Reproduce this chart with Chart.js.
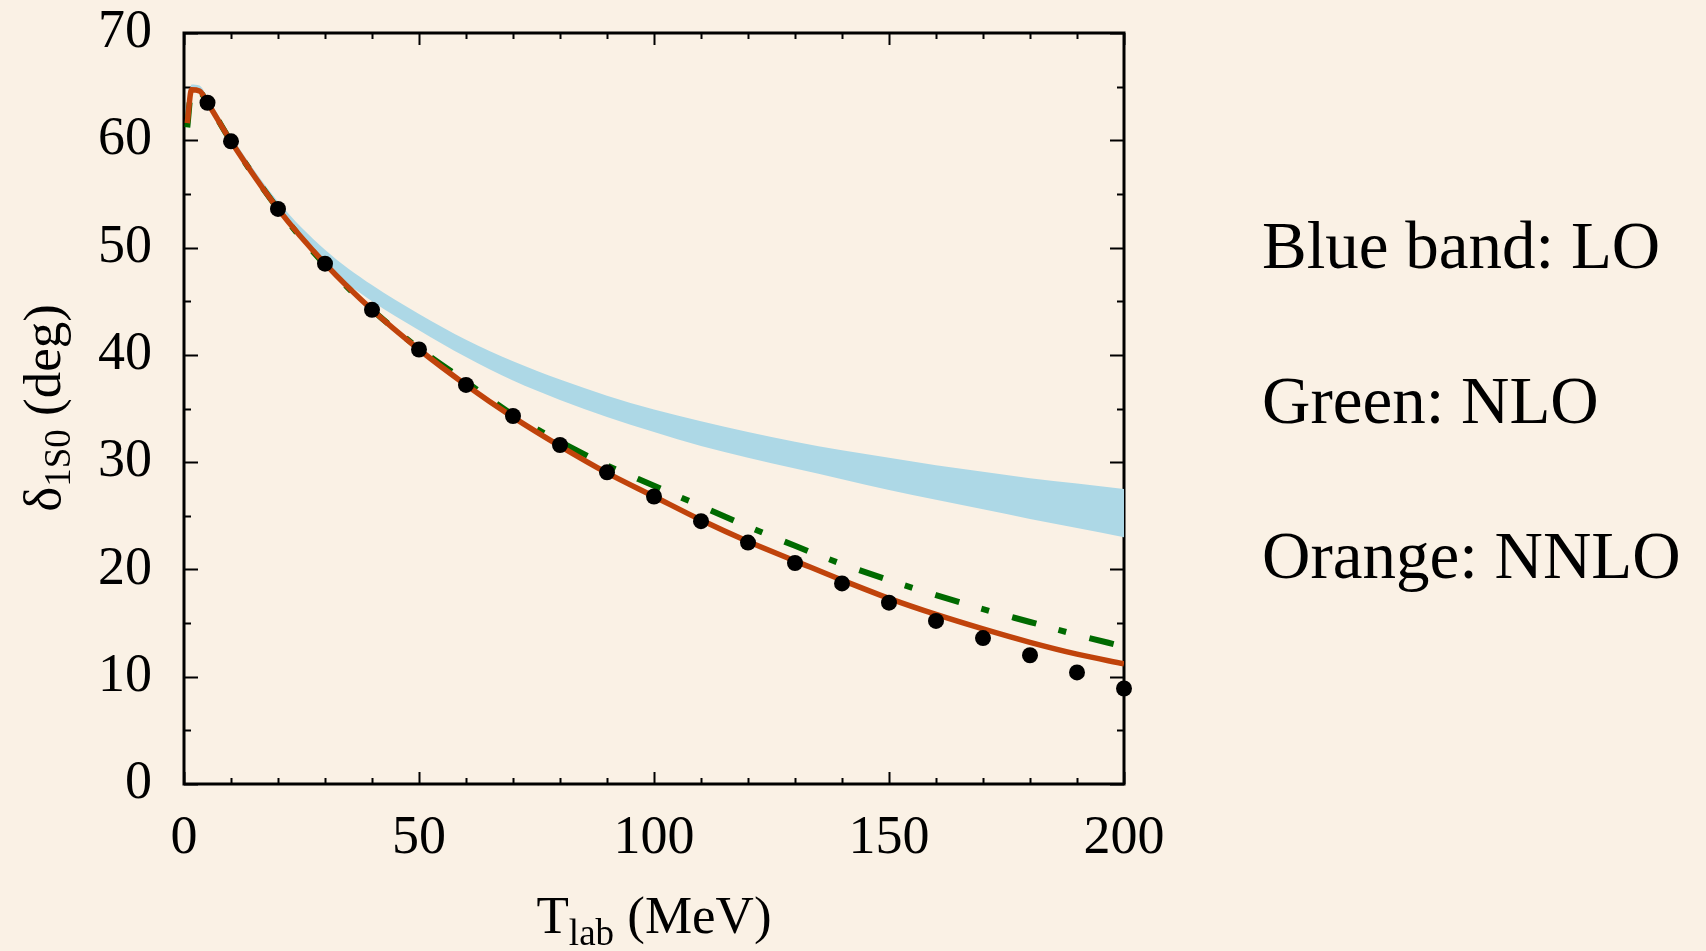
<!DOCTYPE html>
<html>
<head>
<meta charset="utf-8">
<script src="https://cdn.jsdelivr.net/npm/chart.js@4.4.1/dist/chart.umd.min.js"></script>
<style>
  html, body { margin: 0; padding: 0; background: #FAF1E5; }
  canvas { display: block; }
</style>
</head>
<body>
<canvas id="c" width="1706" height="951" style="width:1706px;height:951px"></canvas>
<script>
// ---- data ----
const curveT = [0.7, 1.6, 3.3, 5, 10, 20, 30, 40, 50, 60, 70, 80, 90, 100, 110, 120, 130, 140, 150, 160, 170, 180, 190, 200];
const loUpper = [62.2, 65.2, 65.1, 64.0, 60.4, 54.3, 49.8, 46.5, 43.8, 41.4, 39.4, 37.7, 36.2, 34.9, 33.8, 32.8, 31.9, 31.1, 30.4, 29.7, 29.1, 28.5, 28.0, 27.5];
const loLower = [61.8, 64.5, 64.4, 63.4, 59.9, 53.6, 48.4, 45.0, 42.3, 39.8, 37.6, 35.8, 34.2, 32.8, 31.5, 30.4, 29.4, 28.4, 27.4, 26.5, 25.6, 24.7, 23.85, 23.0];
const nlo = [61.2, 64.6, 64.5, 63.5, 59.9, 53.6, 48.4, 44.2, 40.6, 37.5, 34.4, 31.9, 29.7, 27.8, 25.9, 24.0, 22.2, 20.5, 19.0, 17.6, 16.3, 15.1, 13.9, 12.8];
const nnlo = [61.6, 64.7, 64.6, 63.5, 59.9, 53.6, 48.5, 44.2, 40.5, 37.2, 34.2, 31.5, 29.0, 26.8, 24.6, 22.6, 20.8, 19.0, 17.3, 15.8, 14.45, 13.2, 12.1, 11.2];
const dataT = [5, 10, 20, 30, 40, 50, 60, 70, 80, 90, 100, 110, 120, 130, 140, 150, 160, 170, 180, 190, 200];
const dataPhase = [63.5, 59.9, 53.6, 48.5, 44.2, 40.5, 37.2, 34.3, 31.6, 29.05, 26.8, 24.5, 22.5, 20.6, 18.7, 16.9, 15.2, 13.6, 12.0, 10.4, 8.9];
const xTicks = [0, 50, 100, 150, 200];
const yTicks = [0, 10, 20, 30, 40, 50, 60, 70];
const legendLines = ["Blue band: LO", "Green: NLO", "Orange: NNLO"];

const pts = (xs, ys) => xs.map((x, i) => ({x: x, y: ys[i]}));
const SERIF = "'Liberation Serif', 'Times New Roman', serif";

// frame + inward ticks on all four sides
const framePlugin = {
  id: 'frame',
  beforeDatasetsDraw(chart) {
    const {ctx, chartArea: a, scales: {x, y}} = chart;
    ctx.save();
    ctx.strokeStyle = '#000';
    ctx.lineWidth = 2;
    ctx.beginPath();
    for (let v = 0; v <= 200; v += 10) {
      const px = Math.round(x.getPixelForValue(v)) + 0.5;
      const len = (v % 50 === 0) ? 12 : 6;
      ctx.moveTo(px, a.bottom); ctx.lineTo(px, a.bottom - len);
      ctx.moveTo(px, a.top); ctx.lineTo(px, a.top + len);
    }
    for (let v = 0; v <= 70; v += 5) {
      const py = Math.round(y.getPixelForValue(v)) + 0.5;
      const len = (v % 10 === 0) ? 14 : 7;
      ctx.moveTo(a.left, py); ctx.lineTo(a.left + len, py);
      ctx.moveTo(a.right, py); ctx.lineTo(a.right - len, py);
    }
    ctx.stroke();
    ctx.lineWidth = 3;
    ctx.strokeRect(a.left, a.top, a.right - a.left, a.bottom - a.top);
    ctx.restore();
  }
};

// axis titles with subscripts + side text
const textPlugin = {
  id: 'texts',
  afterDraw(chart) {
    const {ctx, chartArea: a} = chart;
    ctx.save();
    ctx.fillStyle = '#000';
    ctx.textBaseline = 'alphabetic';
    ctx.textAlign = 'left';
    const main = '53px ' + SERIF, sub = '37px ' + SERIF;

    // x title: T_lab (MeV)
    ctx.font = main; const wT = ctx.measureText('T').width;
    ctx.font = sub; const wLab = ctx.measureText('lab').width;
    ctx.font = main; const wRest = ctx.measureText(' (MeV)').width;
    let x0 = (a.left + a.right) / 2 - (wT + wLab + wRest) / 2;
    ctx.font = main; ctx.fillText('T', x0, 933);
    ctx.font = sub; ctx.fillText('lab', x0 + wT, 945);
    ctx.font = main; ctx.fillText(' (MeV)', x0 + wT + wLab, 933);

    // y title: δ_1S0 (deg)
    ctx.font = main; const wd = ctx.measureText('δ').width;
    ctx.font = sub; const ws = ctx.measureText('1S0').width;
    ctx.font = main; const wr = ctx.measureText(' (deg)').width;
    ctx.translate(60, 408);
    ctx.rotate(-Math.PI / 2);
    let s = -(wd + ws + wr) / 2;
    ctx.font = main; ctx.fillText('δ', s, 0);
    ctx.font = sub; ctx.fillText('1S0', s + wd, 10);
    ctx.font = main; ctx.fillText(' (deg)', s + wd + ws, 0);
    ctx.restore();

    // right-hand explanatory text
    ctx.save();
    ctx.fillStyle = '#000';
    ctx.font = '67px ' + SERIF;
    ctx.textBaseline = 'alphabetic';
    ctx.textAlign = 'left';
    const bases = [268, 423, 578];
    legendLines.forEach((t, i) => ctx.fillText(t, 1262, bases[i]));
    ctx.restore();
  }
};

new Chart(document.getElementById('c'), {
  type: 'scatter',
  data: {
    datasets: [
      { label: 'data', data: pts(dataT, dataPhase), showLine: false,
        pointRadius: 8, pointBackgroundColor: '#000', pointBorderWidth: 0, clip: false },
      { label: 'NNLO', data: pts(curveT, nnlo), showLine: true, pointRadius: 0,
        borderColor: '#C0430B', borderWidth: 5.5, cubicInterpolationMode: 'monotone', fill: false },
      { label: 'NLO', data: pts(curveT, nlo), showLine: true, pointRadius: 0,
        borderColor: '#006A00', borderWidth: 6, borderDash: [25, 23, 8, 24],
        borderCapStyle: 'butt', cubicInterpolationMode: 'monotone', fill: false },
      { label: 'LO upper', data: pts(curveT, loUpper), showLine: true, pointRadius: 0,
        borderWidth: 0, borderColor: 'rgba(0,0,0,0)', cubicInterpolationMode: 'monotone', fill: false },
      { label: 'LO lower', data: pts(curveT, loLower), showLine: true, pointRadius: 0,
        borderWidth: 0, borderColor: 'rgba(0,0,0,0)', cubicInterpolationMode: 'monotone',
        fill: '-1', backgroundColor: '#ADD8E6' }
    ]
  },
  options: {
    responsive: false,
    animation: false,
    events: [],
    layout: { padding: { left: 0, right: 582, top: 33, bottom: 0 } },
    plugins: { legend: { display: false }, tooltip: { enabled: false } },
    scales: {
      x: {
        type: 'linear', min: 0, max: 200,
        afterBuildTicks: s => { s.ticks = xTicks.map(v => ({value: v})); },
        ticks: { color: '#000', font: { family: SERIF, size: 54 }, padding: 22, maxRotation: 0, autoSkip: false },
        grid: { display: false, drawTicks: false },
        border: { display: false },
        afterFit: s => { s.height = 167; s.paddingLeft = 0; s.paddingRight = 0; }
      },
      y: {
        type: 'linear', min: 0, max: 70,
        afterBuildTicks: s => { s.ticks = yTicks.map(v => ({value: v})); },
        ticks: { color: '#000', font: { family: SERIF, size: 54 }, padding: 32, autoSkip: false },
        grid: { display: false, drawTicks: false },
        border: { display: false },
        afterFit: s => { s.width = 184; s.paddingTop = 0; s.paddingBottom = 0; }
      }
    }
  },
  plugins: [framePlugin, textPlugin]
});
</script>
</body>
</html>
